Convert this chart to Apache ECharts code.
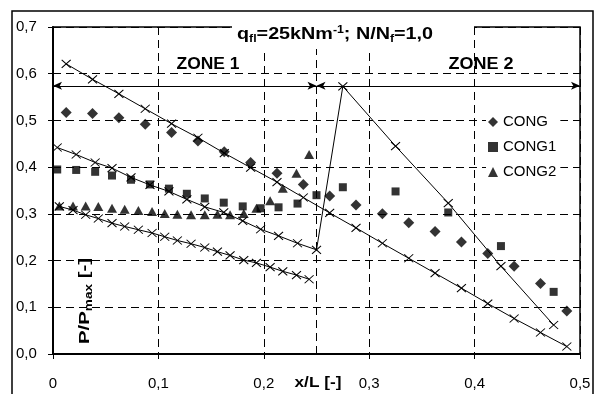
<!DOCTYPE html>
<html><head><meta charset="utf-8">
<script src="https://cdn.jsdelivr.net/npm/echarts@6/dist/echarts.min.js"></script>
<style>html,body{margin:0;padding:0;background:#fff}#c{width:598px;height:394px}</style>
</head><body><div id="c"></div>
<script>
// ---- data ----
const congX  = [0.0125,0.0375,0.0625,0.0875,0.1125,0.1375,0.1625,0.1875,0.2125,0.2375,0.2625,0.2875,0.3125,0.3375,0.3625,0.3875,0.4125,0.4375,0.4625,0.4875];
const congY  = [0.517,0.515,0.506,0.492,0.474,0.456,0.433,0.410,0.387,0.363,0.338,0.319,0.300,0.281,0.262,0.240,0.215,0.188,0.151,0.092];
const cong1X = [0.004,0.022,0.040,0.056,0.074,0.092,0.110,0.127,0.144,0.162,0.180,0.197,0.214,0.232,0.250,0.275,0.325,0.375,0.425,0.475];
const cong1Y = [0.395,0.394,0.390,0.382,0.373,0.363,0.354,0.343,0.333,0.324,0.316,0.312,0.314,0.322,0.340,0.357,0.348,0.303,0.231,0.133];
const cong2X = [0.006,0.019,0.031,0.043,0.056,0.068,0.081,0.094,0.106,0.118,0.131,0.144,0.156,0.168,0.181,0.193,0.206,0.218,0.231,0.243];
const cong2Y = [0.317,0.317,0.317,0.316,0.312,0.310,0.307,0.305,0.301,0.299,0.298,0.298,0.299,0.298,0.301,0.312,0.328,0.355,0.387,0.427];
const modelAY = [0.621,0.588,0.557,0.525,0.493,0.463,0.430,0.399,0.368,0.335,0.302,0.270,0.237,0.205,0.173,0.141,0.108,0.076,0.046,0.016];
const modelBY = [0.442,0.427,0.410,0.398,0.378,0.362,0.348,0.331,0.315,0.303,0.285,0.267,0.253,0.237,0.223,0.573,0.445,0.323,0.188,0.062];
const modelCY = [0.316,0.308,0.298,0.290,0.280,0.273,0.266,0.259,0.251,0.243,0.236,0.228,0.219,0.211,0.201,0.195,0.186,0.177,0.169,0.160];
const zoneBounds = [0, 0.25, 0.5];
const zoneArrowY = 0.574;
const xTickLabels = ['0','0,1','0,2','0,3','0,4','0,5'];
const yTickLabels = ['0,0','0,1','0,2','0,3','0,4','0,5','0,6','0,7'];
const seriesNames = ['CONG','CONG1','CONG2'];

const FONT = '"Liberation Sans", Arial, sans-serif';
const pairs = (xs, ys) => xs.map((x, i) => [x, ys[i]]);
const XSYM = 'path://M0,0L10,10M10,0L0,10';
const modelLine = (name, xs, ys, extra) => Object.assign({
  name, type: 'line', data: pairs(xs, ys), symbol: XSYM, symbolSize: [9, 8], showSymbol: true,
  itemStyle: { color: '#000', borderColor: '#000', borderWidth: 1 },
  lineStyle: { color: '#000', width: 1 }, z: 3, silent: true
}, extra || {});

const mctx = document.createElement('canvas').getContext('2d');
const measure = (t, size) => { mctx.font = 'bold ' + size + 'px ' + FONT; return mctx.measureText(t).width; };

// a line of bold text built from segments (for sub/superscripts), stretched to a target length
function segGroup(segs, x, y, rotation, alignCenter, targetW) {
  let w = 0;
  const kids = segs.map(s => {
    const el = { type: 'text', x: w, y: s.dy, z: 52, silent: true,
      style: { text: s.t, fontSize: s.size, fontWeight: 'bold', fontFamily: FONT, fill: '#000', align: 'left', verticalAlign: 'middle' } };
    w += measure(s.t, s.size);
    return el;
  });
  if (alignCenter) kids.forEach(k => { k.x -= w / 2; });
  return { type: 'group', x, y, rotation: rotation || 0, scaleX: targetW / w, z: 52, silent: true, children: kids };
}
function boldText(t, size, x, y, targetW) {
  return { type: 'text', z: 51, silent: true, x, y, scaleX: targetW / measure(t, size),
    style: { text: t, fontSize: size, fontWeight: 'bold', fontFamily: FONT, fill: '#000', align: 'center', verticalAlign: 'middle' } };
}

const chart = echarts.init(document.getElementById('c'), null, { renderer: 'canvas' });
chart.setOption({
  animation: false,
  backgroundColor: '#fff',
  textStyle: { fontFamily: FONT },
  grid: { left: 53, right: 18, top: 27, bottom: 40, show: true, borderColor: '#000', borderWidth: 1.5, backgroundColor: 'transparent' },
  xAxis: {
    type: 'value', min: 0, max: 0.5, interval: 0.1,
    axisLine: { lineStyle: { color: '#000', width: 2 } },
    axisTick: { show: true, length: 5, lineStyle: { color: '#000', width: 1 } },
    axisLabel: { color: '#000', fontSize: 15, fontFamily: FONT, margin: 22, formatter: v => xTickLabels[Math.round(v * 10)] },
    splitLine: { show: true, lineStyle: { color: '#000', width: 1, type: [8, 5] } }
  },
  yAxis: {
    type: 'value', min: 0, max: 0.7, interval: 0.1,
    axisLine: { show: true, lineStyle: { color: '#000', width: 2 } },
    axisTick: { show: true, length: 5, lineStyle: { color: '#000', width: 1 } },
    axisLabel: { color: '#000', fontSize: 15, fontFamily: FONT, margin: 37, align: 'left', formatter: v => yTickLabels[Math.round(v * 10)] },
    splitLine: { show: true, lineStyle: { color: '#000', width: 1, type: [8, 5] } }
  },
  legend: {
    data: seriesNames, orient: 'vertical', left: 486, top: 111,
    itemWidth: 10, itemHeight: 10, itemGap: 9,
    textStyle: { color: '#000', fontSize: 15, fontFamily: FONT, lineHeight: 16 },
    backgroundColor: '#fff', padding: [3, 4, 3, 2], z: 60
  },
  series: [
    modelLine('A', congX, modelAY, {
      markLine: {
        silent: true, symbol: ['arrow', 'arrow'], symbolSize: [6, 9],
        label: { show: false },
        lineStyle: { color: '#000', width: 1, type: 'solid' },
        data: [
          [{ coord: [zoneBounds[0], zoneArrowY] }, { coord: [zoneBounds[1], zoneArrowY] }],
          [{ coord: [zoneBounds[1], zoneArrowY] }, { coord: [zoneBounds[2], zoneArrowY] }]
        ]
      }
    }),
    modelLine('B', cong1X, modelBY, {
      markLine: {
        silent: true, symbol: ['none', 'none'], label: { show: false },
        lineStyle: { color: '#000', width: 1, type: [8, 5] },
        data: [{ xAxis: zoneBounds[1] }]
      }
    }),
    modelLine('C', cong2X, modelCY),
    { name: 'CONG', type: 'scatter', data: pairs(congX, congY), symbol: 'diamond', symbolSize: [11, 11], itemStyle: { color: '#000' }, z: 4 },
    { name: 'CONG1', type: 'scatter', data: pairs(cong1X, cong1Y), symbol: 'rect', symbolSize: 8, itemStyle: { color: '#000' }, z: 4 },
    { name: 'CONG2', type: 'scatter', data: pairs(cong2X, cong2Y), symbol: 'triangle', symbolSize: [10, 9], itemStyle: { color: '#000' }, z: 4 }
  ],
  graphic: [
    { type: 'rect', z: 1, silent: true, shape: { x: 12, y: 11, width: 581, height: 420 }, style: { fill: 'none', stroke: '#000', lineWidth: 1.5 } },
    { type: 'rect', z: 50, silent: true, shape: { x: 232, y: 19, width: 242, height: 30 }, style: { fill: '#fff' } },
    segGroup([
      { t: 'q', size: 16, dy: 0 }, { t: 'fl', size: 10, dy: 4 }, { t: '=25kNm', size: 16, dy: 0 },
      { t: '-1', size: 10, dy: -5 }, { t: '; N/N', size: 16, dy: 0 }, { t: 'f', size: 10, dy: 4 }, { t: '=1,0', size: 16, dy: 0 }
    ], 237, 35, 0, false, 196),
    boldText('ZONE 1', 16, 208, 65, 63),
    boldText('ZONE 2', 16, 481, 65, 65),
    boldText('x/L [-]', 15, 318, 383, 47),
    segGroup([
      { t: 'P/P', size: 15, dy: 0 }, { t: 'max', size: 10, dy: 4 }, { t: ' [-]', size: 15, dy: 0 }
    ], 85, 301, Math.PI / 2, true, 86)
  ]
});
</script></body></html>
